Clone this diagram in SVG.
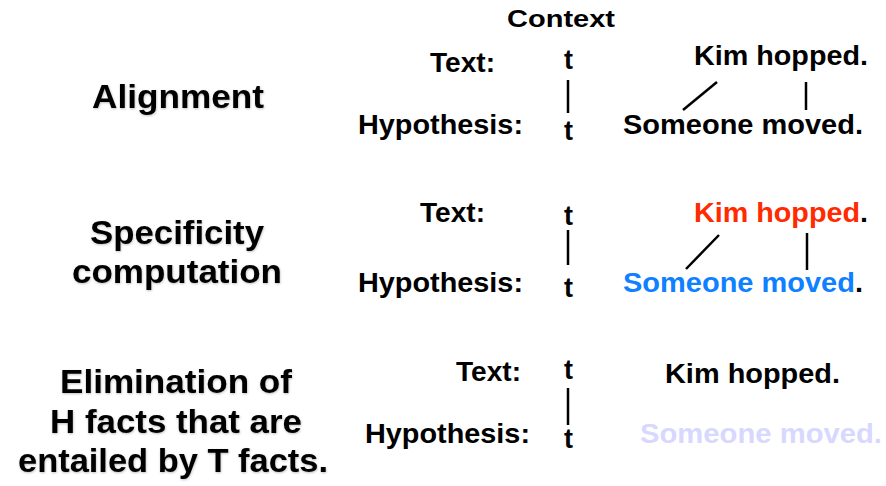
<svg xmlns="http://www.w3.org/2000/svg" width="886" height="486" viewBox="0 0 886 486">
  <defs>
    <filter id="soft-shadow" x="-10%" y="-20%" width="120%" height="140%">
      <feDropShadow dx="0.5" dy="1" stdDeviation="1" flood-color="#000" flood-opacity="0.25"/>
    </filter>
  </defs>
  <style>
    text { font-family: "Liberation Sans", Arial, sans-serif; font-weight: bold; fill: #000; }
    .head { font-size: 24px; }
    .stage { font-size: 33.5px; text-anchor: middle; filter: url(#soft-shadow); }
    .lbl { font-size: 28px; }
    .sent { font-size: 28.5px; }
    .tee { font-size: 27px; }
    .red { fill: #FF2A00; }
    .blue { fill: #0F80FF; }
    .faint { fill: #D8D8FF; }
    .link { stroke: #000; stroke-width: 2.5; fill: none; }
  </style>
  <rect width="886" height="486" fill="#fff"/>

  <text id="context-heading" class="head" x="507" y="27" textLength="108" lengthAdjust="spacingAndGlyphs">Context</text>

  <!-- stage names -->
  <g id="stage-alignment">
    <text class="stage" x="178" y="108" textLength="172" lengthAdjust="spacingAndGlyphs">Alignment</text>
  </g>
  <g id="stage-specificity">
    <text class="stage" x="177" y="244" textLength="174" lengthAdjust="spacingAndGlyphs">Specificity</text>
    <text class="stage" x="177" y="283" textLength="210" lengthAdjust="spacingAndGlyphs">computation</text>
  </g>
  <g id="stage-elimination">
    <text class="stage" x="176" y="393" textLength="232" lengthAdjust="spacingAndGlyphs">Elimination of</text>
    <text class="stage" x="176" y="433" textLength="252" lengthAdjust="spacingAndGlyphs">H facts that are</text>
    <text class="stage" x="173" y="472" textLength="310" lengthAdjust="spacingAndGlyphs">entailed by T facts.</text>
  </g>

  <!-- row 1: alignment -->
  <g id="row1-text">
    <text class="lbl" x="430" y="72" textLength="65" lengthAdjust="spacingAndGlyphs">Text:</text>
    <text class="tee" x="564" y="69">t</text>
    <text class="sent" x="694" y="65" textLength="174" lengthAdjust="spacingAndGlyphs">Kim hopped.</text>
  </g>
  <g id="row1-hypothesis">
    <text class="lbl" x="358" y="134" textLength="165" lengthAdjust="spacingAndGlyphs">Hypothesis:</text>
    <text class="tee" x="564" y="140">t</text>
    <text class="sent" x="623" y="134" textLength="240" lengthAdjust="spacingAndGlyphs">Someone moved.</text>
  </g>

  <!-- row 2: specificity -->
  <g id="row2-text">
    <text class="lbl" x="420" y="222" textLength="65" lengthAdjust="spacingAndGlyphs">Text:</text>
    <text class="tee" x="564" y="225">t</text>
    <text class="sent" x="694" y="222" textLength="174" lengthAdjust="spacingAndGlyphs"><tspan class="red">Kim hopped</tspan>.</text>
  </g>
  <g id="row2-hypothesis">
    <text class="lbl" x="358" y="292" textLength="165" lengthAdjust="spacingAndGlyphs">Hypothesis:</text>
    <text class="tee" x="564" y="297">t</text>
    <text class="sent" x="623" y="292" textLength="240" lengthAdjust="spacingAndGlyphs"><tspan class="blue">Someone moved</tspan>.</text>
  </g>

  <!-- row 3: elimination -->
  <g id="row3-text">
    <text class="lbl" x="456" y="381" textLength="65" lengthAdjust="spacingAndGlyphs">Text:</text>
    <text class="tee" x="564" y="379">t</text>
    <text class="sent" x="665" y="383" textLength="175" lengthAdjust="spacingAndGlyphs">Kim hopped.</text>
  </g>
  <g id="row3-hypothesis">
    <text class="lbl" x="365" y="443" textLength="165" lengthAdjust="spacingAndGlyphs">Hypothesis:</text>
    <text class="tee" x="564" y="448">t</text>
    <text class="sent faint" x="640" y="443" textLength="242" lengthAdjust="spacingAndGlyphs">Someone moved.</text>
  </g>

  <!-- alignment links -->
  <g id="connectors">
    <line class="link" x1="568" y1="80" x2="568" y2="113"/>
    <line class="link" x1="717" y1="82" x2="683" y2="110"/>
    <line class="link" x1="806" y1="82" x2="806" y2="110"/>

    <line class="link" x1="568" y1="230" x2="568" y2="265"/>
    <line class="link" x1="719" y1="235" x2="686" y2="269"/>
    <line class="link" x1="807" y1="233" x2="807" y2="270"/>

    <line class="link" x1="568" y1="388" x2="568" y2="425"/>
  </g>
</svg>
